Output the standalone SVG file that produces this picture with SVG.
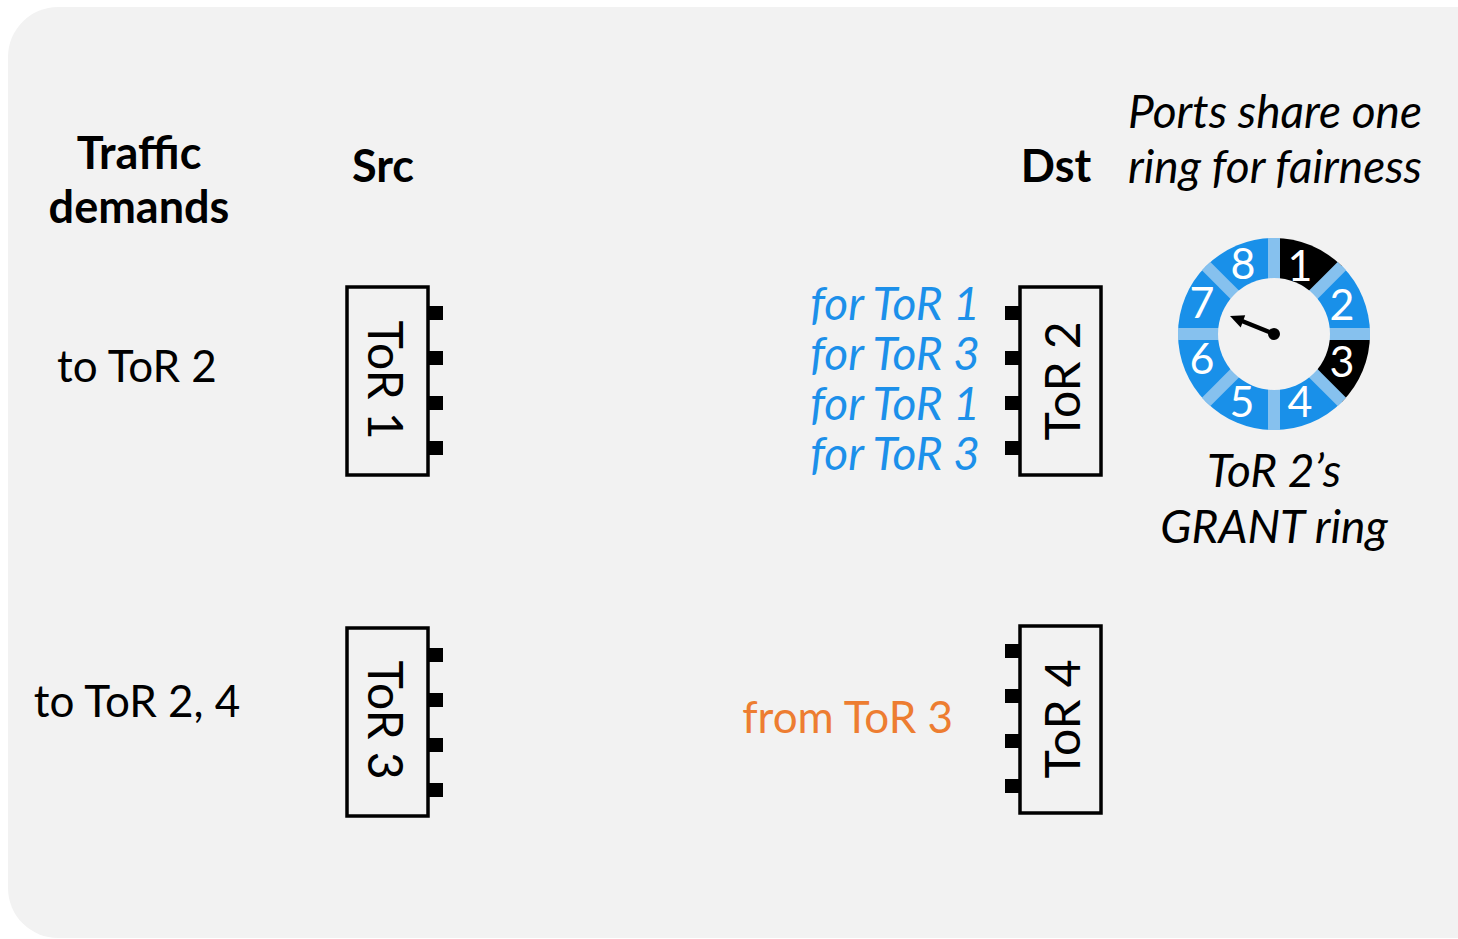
<svg xmlns="http://www.w3.org/2000/svg" width="1458" height="939" viewBox="0 0 1458 939">
  <defs>
    <style>
      .t { font-family: Lato, "Liberation Sans", sans-serif; font-size: 44px; fill: #000; }
      .b { font-weight: bold; font-size: 45px; }
      .i { font-style: italic; font-size: 46px; }
      .lbl { font-size: 48px; }
      .mid { text-anchor: middle; }
      .end { text-anchor: end; }
      .blue { fill: #1C90EA; }
      .orange { fill: #ED7D31; }
      .box { fill: none; stroke: #000; stroke-width: 3.5; }
      .port { fill: #000; }
      .seg { fill: #1990E9; }
      .segk { fill: #000; }
      .num { font-family: Lato, "Liberation Sans", sans-serif; font-size: 43px; fill: #fff; text-anchor: middle; }
    </style>
  </defs>

  <!-- panel background -->
  <rect x="8" y="7" width="1520" height="931" rx="50" ry="50" fill="#F2F2F2"/>

  <!-- column headings -->
  <g id="headings">
    <text class="t b mid" x="139" y="169">Traffic</text>
    <text class="t b mid" x="139" y="223">demands</text>
    <text class="t b mid" x="383" y="182">Src</text>
    <text class="t b mid" x="1056" y="182">Dst</text>
    <text class="t i mid" x="1275" y="128">Ports share one</text>
    <text class="t i mid" x="1275" y="183">ring for fairness</text>
  </g>

  <!-- demand labels -->
  <g id="demands">
    <text class="t mid" x="137" y="382">to ToR 2</text>
    <text class="t mid" x="137" y="717">to ToR 2, 4</text>
  </g>

  <!-- source switches -->
  <g id="tor1">
    <rect class="box" x="347" y="287" width="81" height="188"/>
    <rect class="port" x="428" y="306" width="15" height="14"/>
    <rect class="port" x="428" y="351" width="15" height="14"/>
    <rect class="port" x="428" y="396" width="15" height="14"/>
    <rect class="port" x="428" y="441" width="15" height="14"/>
    <text class="t lbl mid" transform="translate(368,380) rotate(90)">ToR 1</text>
  </g>
  <g id="tor3">
    <rect class="box" x="347" y="628" width="81" height="188"/>
    <rect class="port" x="428" y="648" width="15" height="14"/>
    <rect class="port" x="428" y="693" width="15" height="14"/>
    <rect class="port" x="428" y="738" width="15" height="14"/>
    <rect class="port" x="428" y="783" width="15" height="14"/>
    <text class="t lbl mid" transform="translate(368,720) rotate(90)">ToR 3</text>
  </g>

  <!-- destination switches -->
  <g id="tor2">
    <rect class="box" x="1020" y="287" width="81" height="188"/>
    <rect class="port" x="1005" y="306" width="15" height="14"/>
    <rect class="port" x="1005" y="351" width="15" height="14"/>
    <rect class="port" x="1005" y="396" width="15" height="14"/>
    <rect class="port" x="1005" y="441" width="15" height="14"/>
    <text class="t lbl mid" transform="translate(1080,381) rotate(-90)">ToR 2</text>
    <text class="t i blue end" x="980" y="320">for ToR 1</text>
    <text class="t i blue end" x="980" y="370">for ToR 3</text>
    <text class="t i blue end" x="980" y="420">for ToR 1</text>
    <text class="t i blue end" x="980" y="470">for ToR 3</text>
  </g>
  <g id="tor4">
    <rect class="box" x="1020" y="626" width="81" height="187"/>
    <rect class="port" x="1005" y="644" width="15" height="14"/>
    <rect class="port" x="1005" y="689" width="15" height="14"/>
    <rect class="port" x="1005" y="734" width="15" height="14"/>
    <rect class="port" x="1005" y="779" width="15" height="14"/>
    <text class="t lbl mid" transform="translate(1080,719) rotate(-90)">ToR 4</text>
    <text class="t orange end" x="953" y="733">from ToR 3</text>
  </g>

  <!-- grant ring of ToR 2 -->
  <g id="grant-ring">
    <path class="segk" d="M1274 334 L1274 238 A96 96 0 0 1 1341.88 266.12 Z"/>
    <path class="seg" d="M1274 334 L1341.88 266.12 A96 96 0 0 1 1370 334 Z"/>
    <path class="segk" d="M1274 334 L1370 334 A96 96 0 0 1 1341.88 401.88 Z"/>
    <path class="seg" d="M1274 334 L1341.88 401.88 A96 96 0 0 1 1274 430 Z"/>
    <path class="seg" d="M1274 334 L1274 430 A96 96 0 0 1 1206.12 401.88 Z"/>
    <path class="seg" d="M1274 334 L1206.12 401.88 A96 96 0 0 1 1178 334 Z"/>
    <path class="seg" d="M1274 334 L1178 334 A96 96 0 0 1 1206.12 266.12 Z"/>
    <path class="seg" d="M1274 334 L1206.12 266.12 A96 96 0 0 1 1274 238 Z"/>
    <!-- light separators between slots -->
    <g stroke="#86C1EE" stroke-width="12">
      <line x1="1274" y1="238" x2="1274" y2="430"/>
      <line x1="1178" y1="334" x2="1370" y2="334"/>
      <line x1="1206.12" y1="266.12" x2="1341.88" y2="401.88"/>
      <line x1="1206.12" y1="401.88" x2="1341.88" y2="266.12"/>
    </g>
    <circle cx="1274" cy="334" r="56" fill="#F2F2F2"/>
    <text class="num" x="1300" y="281">1</text>
    <text class="num" x="1342" y="320">2</text>
    <text class="num" x="1342" y="377">3</text>
    <text class="num" x="1300" y="417">4</text>
    <text class="num" x="1242" y="417">5</text>
    <text class="num" x="1202" y="374">6</text>
    <text class="num" x="1202" y="318">7</text>
    <text class="num" x="1243" y="279">8</text>
    <!-- pointer -->
    <line x1="1274" y1="334" x2="1242" y2="321" stroke="#000" stroke-width="4.5"/>
    <polygon points="1230,316 1245.2,315.2 1240.7,327.4" fill="#000"/>
    <circle cx="1274" cy="334" r="6" fill="#000"/>
    <text class="t i mid" x="1274" y="487">ToR 2’s</text>
    <text class="t i mid" x="1274" y="543">GRANT ring</text>
  </g>
</svg>
